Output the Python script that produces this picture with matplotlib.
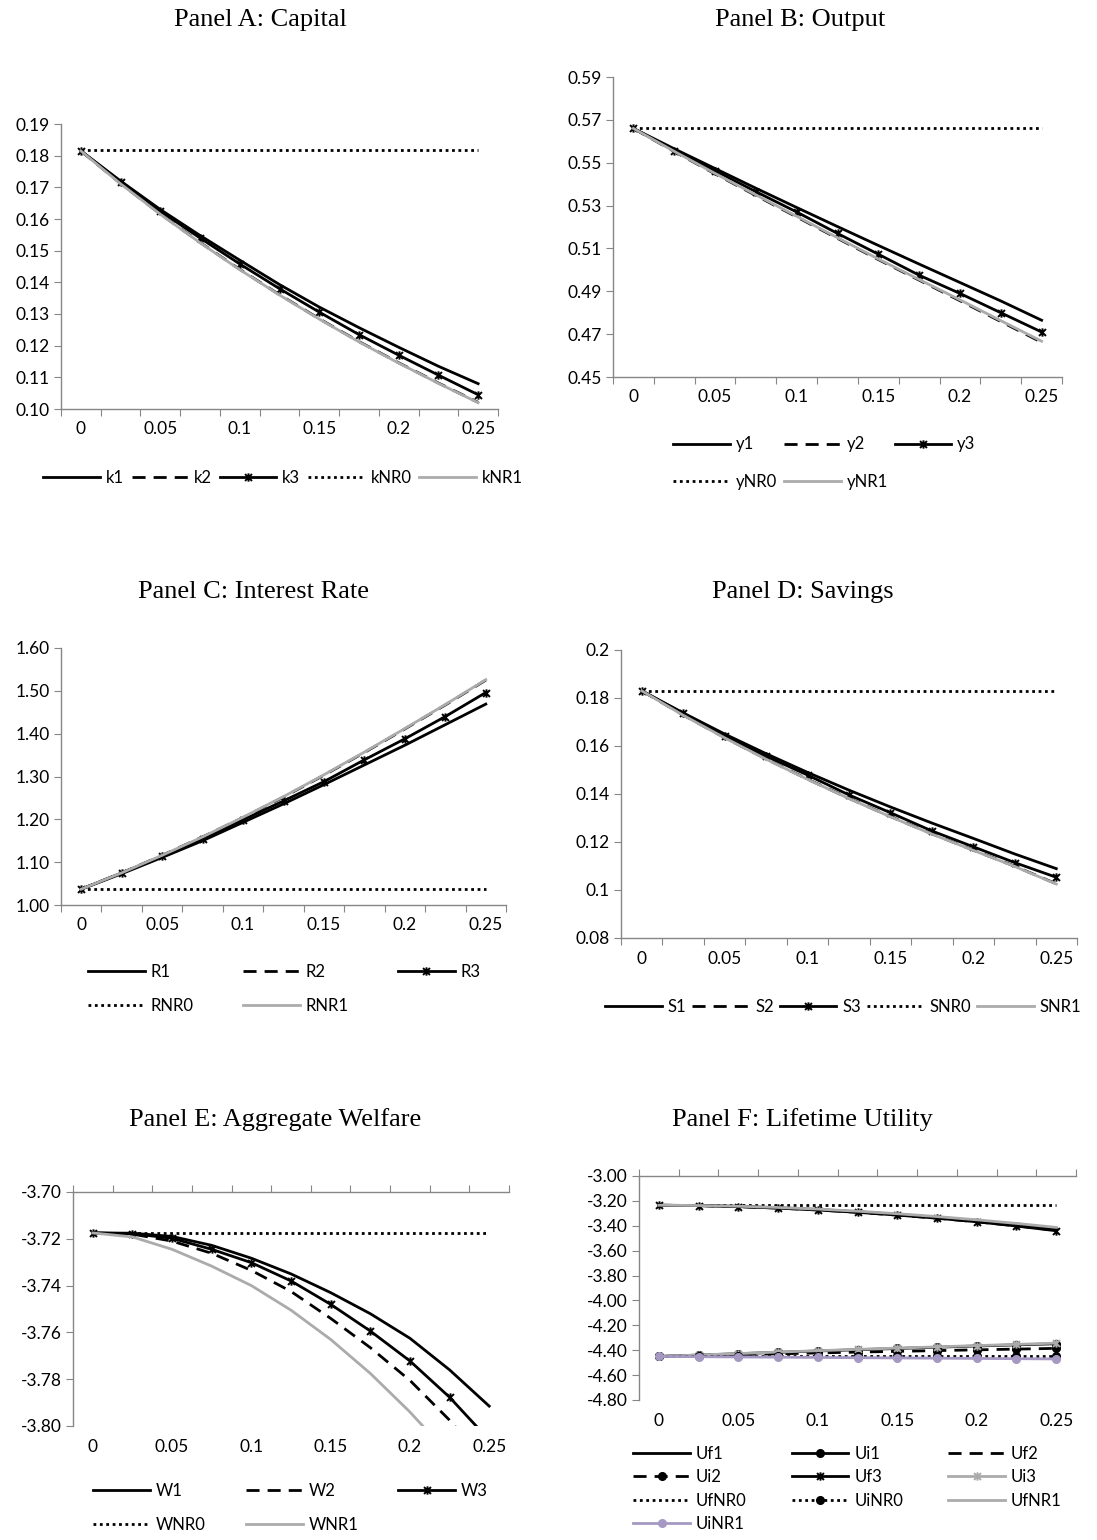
import numpy as np
import matplotlib
matplotlib.use("Agg")
import matplotlib.pyplot as plt
from matplotlib.path import Path

# ---- data (11 categories, tau = 0 ... 0.25) ----
tau = [0.0, 0.025, 0.05, 0.075, 0.1, 0.125, 0.15, 0.175, 0.2, 0.225, 0.25]
xlabels = ['0', '0.05', '0.1', '0.15', '0.2', '0.25']

k1 = [0.1815, 0.1720, 0.1630, 0.1548, 0.1470, 0.1393, 0.1322, 0.1257, 0.1195, 0.1135, 0.1080]
k2 = [0.1815, 0.1712, 0.1616, 0.1526, 0.1441, 0.1361, 0.1285, 0.1213, 0.1146, 0.1082, 0.1021]
k3 = [0.1815, 0.1718, 0.1625, 0.1540, 0.1458, 0.1380, 0.1306, 0.1235, 0.1170, 0.1107, 0.1045]
kNR0 = [0.1818] * 11
kNR1 = [0.1815, 0.1711, 0.1615, 0.1525, 0.1440, 0.1360, 0.1284, 0.1212, 0.1145, 0.1081, 0.1020]

y1 = [0.566, 0.5565, 0.5473, 0.5381, 0.5291, 0.5202, 0.5114, 0.5027, 0.4941, 0.4855, 0.4765]
y2 = [0.566, 0.5552, 0.5448, 0.5347, 0.5247, 0.5147, 0.5048, 0.4952, 0.4856, 0.4759, 0.4662]
y3 = [0.566, 0.5557, 0.5462, 0.5365, 0.5270, 0.5170, 0.5073, 0.4975, 0.4890, 0.4800, 0.4710]
yNR0 = [0.566] * 11
yNR1 = [0.566, 0.5553, 0.5450, 0.5350, 0.5250, 0.5150, 0.5051, 0.4955, 0.4860, 0.4763, 0.4667]

R1 = [1.037, 1.073, 1.111, 1.150, 1.193, 1.236, 1.281, 1.327, 1.373, 1.421, 1.469]
R2 = [1.037, 1.075, 1.116, 1.159, 1.204, 1.252, 1.303, 1.356, 1.411, 1.467, 1.525]
R3 = [1.037, 1.075, 1.114, 1.154, 1.199, 1.243, 1.288, 1.339, 1.388, 1.440, 1.496]
RNR0 = [1.037] * 11
RNR1 = [1.037, 1.075, 1.116, 1.159, 1.205, 1.253, 1.304, 1.357, 1.412, 1.468, 1.526]

S1 = [0.183, 0.1738, 0.1650, 0.1568, 0.1490, 0.1416, 0.1346, 0.1279, 0.1215, 0.1150, 0.1089]
S2 = [0.183, 0.1729, 0.1635, 0.1546, 0.1462, 0.1382, 0.1306, 0.1234, 0.1166, 0.1099, 0.1026]
S3 = [0.183, 0.1736, 0.1642, 0.1558, 0.1479, 0.1396, 0.1322, 0.1246, 0.1180, 0.1114, 0.1053]
SNR0 = [0.1831] * 11
SNR1 = [0.183, 0.1728, 0.1634, 0.1545, 0.1461, 0.1381, 0.1305, 0.1233, 0.1165, 0.1098, 0.1025]

W1 = [-3.7175, -3.7176, -3.7190, -3.7228, -3.7283, -3.7350, -3.7430, -3.7520, -3.7625, -3.7760, -3.7915]
W2 = [-3.7175, -3.7180, -3.7210, -3.7262, -3.7335, -3.7425, -3.7540, -3.7665, -3.7805, -3.7975, -3.8170]
W3 = [-3.7175, -3.7178, -3.7198, -3.7245, -3.7302, -3.7380, -3.7480, -3.7594, -3.7722, -3.7877, -3.8060]
WNR0 = [-3.7175] * 11
WNR1 = [-3.7175, -3.7192, -3.7245, -3.7317, -3.7400, -3.7505, -3.7630, -3.7775, -3.7940, -3.8125, -3.8330]

Uf1 = [-3.235, -3.237, -3.244, -3.255, -3.269, -3.287, -3.308, -3.332, -3.359, -3.389, -3.425]
Ui1 = [-4.45, -4.439, -4.428, -4.417, -4.406, -4.396, -4.386, -4.376, -4.366, -4.357, -4.348]
Uf2 = [-3.235, -3.238, -3.246, -3.258, -3.273, -3.292, -3.314, -3.339, -3.368, -3.400, -3.437]
Ui2 = [-4.45, -4.443, -4.436, -4.429, -4.422, -4.415, -4.409, -4.403, -4.397, -4.391, -4.385]
Uf3 = [-3.235, -3.238, -3.246, -3.258, -3.273, -3.292, -3.314, -3.339, -3.368, -3.402, -3.440]
Ui3 = [-4.45, -4.438, -4.427, -4.415, -4.404, -4.393, -4.383, -4.373, -4.363, -4.353, -4.343]
UfNR0 = [-3.235] * 11
UiNR0 = [-4.45] * 11
UfNR1 = [-3.235, -3.237, -3.243, -3.253, -3.266, -3.283, -3.303, -3.326, -3.352, -3.381, -3.413]
UiNR1 = [-4.45, -4.452, -4.454, -4.456, -4.458, -4.460, -4.462, -4.464, -4.466, -4.468, -4.470]

# ---- styles ----
W, H = 1097, 1540
BLACK = '#000000'
GRAY = '#ABABAB'
PURPLE = '#A598C2'
AXC = '#868686'
LW = 2.0
DASH = (0, (4.7, 2.9))
DOT = (0, (1, 1.3))
LFS = 12
star = Path([(-1, -1), (1, 1), (-1, 1), (1, -1), (0, -1.2), (0, 1.2)],
            [Path.MOVETO, Path.LINETO] * 3)

plt.rcParams['font.family'] = ['Lato', 'DejaVu Sans']

fig = plt.figure(figsize=(W / 100, H / 100), dpi=100)
pos = np.arange(len(tau))


def make_ax(l, r, t, b, ylo, yhi, step, fmt, top_axis=False):
    ax = fig.add_axes([l / W, 1 - b / H, (r - l) / W, (b - t) / H])
    ax.set_xlim(-0.5, len(tau) - 0.5)
    ax.set_ylim(ylo, yhi)
    yt = np.arange(ylo, yhi + step / 2, step)
    ax.set_yticks(yt)
    ax.set_yticklabels([fmt(v) for v in yt])
    ax.set_xticks(np.arange(-0.5, len(tau), 1))
    ax.set_xticklabels([])
    ax.set_xticks(pos[::2], minor=True)
    ax.set_xticklabels(xlabels, minor=True)
    ax.spines['right'].set_visible(False)
    if top_axis:
        ax.spines['bottom'].set_visible(False)
        ax.tick_params(axis='x', which='major', top=True, bottom=False,
                       direction='out', length=5, color=AXC)
    else:
        ax.spines['top'].set_visible(False)
        ax.tick_params(axis='x', which='major', length=5, color=AXC)
    ax.tick_params(axis='x', which='minor', length=0, pad=9, labelsize=12.5)
    ax.tick_params(axis='y', length=5, color=AXC, labelsize=12.5, pad=3)
    for s in ax.spines.values():
        s.set_color(AXC)
        s.set_linewidth(1.0)
    ax.patch.set_alpha(0)
    return ax


def legend(ax, handles, x, yc, ncol, colsp, lsp=1.0):
    lg = ax.legend(handles=handles, loc='center left', ncol=ncol,
                   bbox_to_anchor=(x / W, 1 - yc / H), bbox_transform=fig.transFigure,
                   frameon=False, borderpad=0, handlelength=3.4, handletextpad=0.36,
                   columnspacing=colsp, labelspacing=lsp, fontsize=LFS)
    return lg


def title(x, y, s):
    fig.text(x / W, 1 - y / H, s, ha='center', va='center',
             family='Liberation Serif', fontsize=19)


fmt2 = lambda v: '%.2f' % v
fmtg = lambda v: '%g' % round(v, 2)

# Panel A
ax = make_ax(61, 498, 124, 409, 0.10, 0.19, 0.01, fmt2)
h = []
h += ax.plot(pos, k1, color=BLACK, lw=LW, label='k1')
h += ax.plot(pos, k2, color=BLACK, lw=LW, ls=DASH, label='k2')
h += ax.plot(pos, k3, color=BLACK, lw=LW, marker=star, ms=6, mew=1.4, label='k3')
h += ax.plot(pos, kNR0, color=BLACK, lw=LW, ls=DOT, label='kNR0')
h += ax.plot(pos, kNR1, color=GRAY, lw=LW, label='kNR1')
legend(ax, h, 35, 478, 5, 0.45)
title(260, 20, 'Panel A: Capital')

# Panel B
ax = make_ax(613, 1062, 77, 377, 0.45, 0.59, 0.02, fmt2)
a = ax.plot(pos, y1, color=BLACK, lw=LW, label='y1')
b = ax.plot(pos, y2, color=BLACK, lw=LW, ls=DASH, label='y2')
c = ax.plot(pos, y3, color=BLACK, lw=LW, marker=star, ms=6, mew=1.4, label='y3')
d = ax.plot(pos, yNR0, color=BLACK, lw=LW, ls=DOT, label='yNR0')
e = ax.plot(pos, yNR1, color=GRAY, lw=LW, label='yNR1')
legend(ax, a + d + b + e + c, 665, 463, 3, 0.4, 1.27)
title(800, 20, 'Panel B: Output')

# Panel C
ax = make_ax(61, 506, 648, 905, 1.00, 1.60, 0.10, fmt2)
a = ax.plot(pos, R1, color=BLACK, lw=LW, label='R1')
b = ax.plot(pos, R2, color=BLACK, lw=LW, ls=DASH, label='R2')
c = ax.plot(pos, R3, color=BLACK, lw=LW, marker=star, ms=6, mew=1.4, label='R3')
d = ax.plot(pos, RNR0, color=BLACK, lw=LW, ls=DOT, label='RNR0')
e = ax.plot(pos, RNR1, color=GRAY, lw=LW, label='RNR1')
legend(ax, a + d + b + e + c, 80, 989, 3, 2.95, 1.1)
title(254, 592, 'Panel C: Interest Rate')

# Panel D
ax = make_ax(621, 1077, 650, 938, 0.08, 0.20, 0.02, fmtg)
h = []
h += ax.plot(pos, S1, color=BLACK, lw=LW, label='S1')
h += ax.plot(pos, S2, color=BLACK, lw=LW, ls=DASH, label='S2')
h += ax.plot(pos, S3, color=BLACK, lw=LW, marker=star, ms=6, mew=1.4, label='S3')
h += ax.plot(pos, SNR0, color=BLACK, lw=LW, ls=DOT, label='SNR0')
h += ax.plot(pos, SNR1, color=GRAY, lw=LW, label='SNR1')
legend(ax, h, 597, 1007, 5, 0.35)
title(803, 592, 'Panel D: Savings')

# Panel E
ax = make_ax(73, 509, 1192, 1426, -3.80, -3.70, 0.02, fmt2, top_axis=True)
a = ax.plot(pos, W1, color=BLACK, lw=LW, label='W1')
b = ax.plot(pos, W2, color=BLACK, lw=LW, ls=DASH, label='W2')
c = ax.plot(pos, W3, color=BLACK, lw=LW, marker=star, ms=6, mew=1.4, label='W3')
d = ax.plot(pos, WNR0, color=BLACK, lw=LW, ls=DOT, label='WNR0')
e = ax.plot(pos, WNR1, color=GRAY, lw=LW, label='WNR1')
legend(ax, a + d + b + e + c, 85, 1508, 3, 2.4, 1.05)
title(275, 1120, 'Panel E: Aggregate Welfare')

# Panel F
ax = make_ax(639, 1076, 1176, 1400, -4.80, -3.00, 0.20, fmt2, top_axis=True)
f1 = ax.plot(pos, Uf1, color=BLACK, lw=LW, label='Uf1')
i1 = ax.plot(pos, Ui1, color=BLACK, lw=LW, marker='o', ms=5.5, label='Ui1')
f2 = ax.plot(pos, Uf2, color=BLACK, lw=LW, ls=DASH, label='Uf2')
i2 = ax.plot(pos, Ui2, color=BLACK, lw=LW, ls=DASH, marker='o', ms=5.5, label='Ui2')
f3 = ax.plot(pos, Uf3, color=BLACK, lw=LW, marker=star, ms=6, mew=1.4, label='Uf3')
i3 = ax.plot(pos, Ui3, color=GRAY, lw=LW, marker=star, ms=6, mew=1.4, label='Ui3')
f0 = ax.plot(pos, UfNR0, color=BLACK, lw=LW, ls=DOT, label='UfNR0')
i0 = ax.plot(pos, UiNR0, color=BLACK, lw=LW, ls=DOT, marker='o', ms=5.5, label='UiNR0')
fn = ax.plot(pos, UfNR1, color=GRAY, lw=LW, label='UfNR1')
inr = ax.plot(pos, UiNR1, color=PURPLE, lw=LW, marker='o', ms=5.5, label='UiNR1')
legend(ax, f1 + i2 + f0 + inr + i1 + f3 + i0 + f2 + i3 + fn, 625, 1489, 3, 2.7, 0.45)
title(802, 1120, 'Panel F: Lifetime Utility')

fig.savefig('out.png', dpi=100)
